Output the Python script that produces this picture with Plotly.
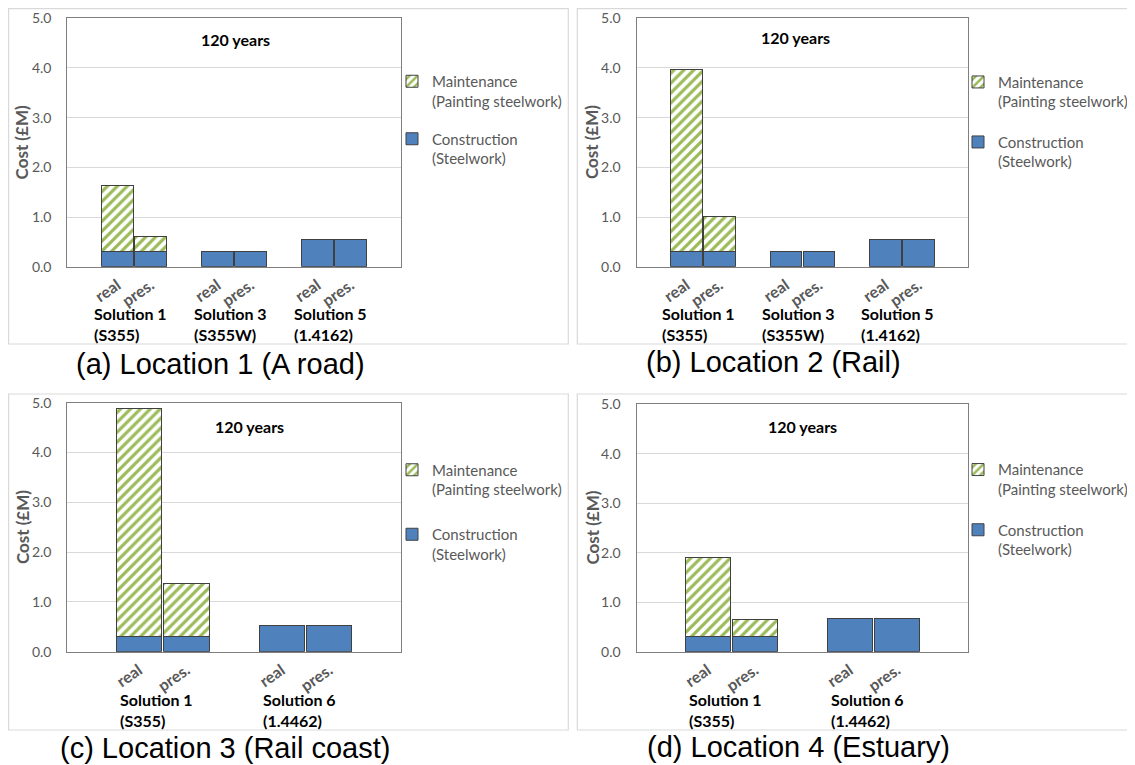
import plotly.graph_objects as go

# ---------------- data ----------------
bar_labels_3 = ["real", "pres.", "real", "pres.", "real", "pres."]
bar_slots_3 = [1, 2, 4, 5, 7, 8]
groups_3 = ["Solution 1<br>(S355)", "Solution 3<br>(S355W)", "Solution 5<br>(1.4162)"]
group_slots_3 = [1.5, 4.5, 7.5]

bar_labels_2 = ["real", "pres.", "real", "pres."]
bar_slots_2 = [1, 2, 4, 5]
groups_2 = ["Solution 1<br>(S355)", "Solution 6<br>(1.4462)"]
group_slots_2 = [1.5, 4.5]

constr_a = [0.30, 0.30, 0.30, 0.30, 0.54, 0.54]
maint_a = [1.34, 0.31, None, None, None, None]
constr_b = [0.30, 0.30, 0.30, 0.30, 0.54, 0.54]
maint_b = [3.67, 0.72, None, None, None, None]
constr_c = [0.30, 0.30, 0.53, 0.53]
maint_c = [4.58, 1.06, None, None]
constr_d = [0.30, 0.30, 0.68, 0.68]
maint_d = [1.60, 0.36, None, None]

captions = ["(a) Location 1 (A road)", "(b) Location 2 (Rail)",
            "(c) Location 3 (Rail coast)", "(d) Location 4 (Estuary)"]
maint_name = "Maintenance<br>(Painting steelwork)"
constr_name = "Construction<br>(Steelwork)"
period_label = "120 years"
y_title = "Cost (£M)"
y_ticks = [0, 1, 2, 3, 4, 5]

# ---------------- style ----------------
# the page body adds an 8px offset, so the figure is drawn 8px smaller and all
# positions below are given in window pixels and shifted by OFF
OFF = 8
W, H = 1135 - OFF, 765 - OFF
FONT = "Lato"
GRAY = "#595959"
BLUE = "#4F81BD"
GREEN = "#9BBB59"
EDGE = "#404040"


def px(x):
    return (x - OFF) / W


def py(y):
    return 1 - (y - OFF) / H


panels = [
    dict(k="", c=constr_a, m=maint_a, s=bar_slots_3, l=bar_labels_3, g=groups_3, gs=group_slots_3,
         xr=[-0.5, 9.5], xd=(67.4, 400.7), yd=(18.3, 266.7), leg=(392, 65), gap=15.5,
         per=(0.505, 4.58), cap=(220, 364), glab=323.8, yt=21.9),
    dict(k="2", c=constr_b, m=maint_b, s=bar_slots_3, l=bar_labels_3, g=groups_3, gs=group_slots_3,
         xr=[-0.5, 9.5], xd=(636.6, 968.3), yd=(18.3, 266.7), leg=(958, 65.7), gap=18,
         per=(0.48, 4.61), cap=(773.5, 362), glab=323.8, yt=591.6),
    dict(k="3", c=constr_c, m=maint_c, s=bar_slots_2, l=bar_labels_2, g=groups_2, gs=group_slots_2,
         xr=[-0.5, 6.5], xd=(67.4, 400.7), yd=(402.7, 651.7), leg=(392, 453.5), gap=22.5,
         per=(0.547, 4.52), cap=(225, 748), glab=709.5, yt=21.9),
    dict(k="4", c=constr_d, m=maint_d, s=bar_slots_2, l=bar_labels_2, g=groups_2, gs=group_slots_2,
         xr=[-0.5, 6.5], xd=(636.6, 968.0), yd=(404.3, 651.7), leg=(958, 453.3), gap=18.2,
         per=(0.50, 4.55), cap=(798, 747), glab=709.5, yt=591.6),
]

fig = go.Figure()
layout = dict(width=W, height=H, margin=dict(l=0, r=0, t=0, b=0, autoexpand=False), autosize=False,
              paper_bgcolor="white", plot_bgcolor="white", barmode="stack",
              font=dict(family=FONT, color=GRAY), showlegend=True)
annotations = []
shapes = []

for p in panels:
    k = p["k"]
    xa = "x" + k
    ya = "y" + k
    leg = "legend" + k
    fig.add_trace(go.Bar(
        x=p["s"], y=p["c"], name=constr_name, xaxis=xa, yaxis=ya, width=0.95,
        marker=dict(color=BLUE, line=dict(color=EDGE, width=1)),
        legend=leg, legendgroup="c" + k, legendrank=2, hoverinfo="y"))
    fig.add_trace(go.Bar(
        x=p["s"], y=p["m"], name=maint_name, xaxis=xa, yaxis=ya, width=0.95,
        marker=dict(color="white", line=dict(color=EDGE, width=1),
                    pattern=dict(shape="/", fgcolor=GREEN, bgcolor="white",
                                 size=7, solidity=0.45, fgopacity=1)),
        legend=leg, legendgroup="m" + k, legendrank=1, hoverinfo="y"))

    xkey = "xaxis" + k
    ykey = "yaxis" + k
    layout[xkey] = dict(domain=[px(p["xd"][0]), px(p["xd"][1])], anchor=ya,
                        range=p["xr"], tickmode="array", tickvals=p["s"], ticktext=p["l"],
                        tickangle=-35, showgrid=False, zeroline=False,
                        showline=True, mirror=True, linecolor="#7F7F7F", linewidth=1.3,
                        ticks="", ticklabelstandoff=2,
                        tickfont=dict(family=FONT, size=16, color=GRAY, weight="bold"),
                        fixedrange=True)
    layout[ykey] = dict(domain=[py(p["yd"][1]), py(p["yd"][0])], anchor=xa,
                        range=[0, 5], tickmode="array", tickvals=y_ticks,
                        ticktext=[f"{v:.1f}" for v in y_ticks],
                        showgrid=True, gridcolor="#D9D9D9", gridwidth=1.3, zeroline=False,
                        showline=True, mirror=True, linecolor="#7F7F7F", linewidth=1.3,
                        ticks="", ticklabelstandoff=12,
                        tickfont=dict(family=FONT, size=14, color=GRAY), fixedrange=True)
    layout[leg] = dict(x=px(p["leg"][0]), y=py(p["leg"][1]), xanchor="left", yanchor="top",
                       traceorder="grouped", valign="top", tracegroupgap=p["gap"],
                       font=dict(family=FONT, size=15, color=GRAY), bgcolor="rgba(0,0,0,0)",
                       itemclick=False, itemdoubleclick=False)

    annotations.append(dict(text=period_label, xref=xa + " domain", yref=ya,
                            x=p["per"][0], y=p["per"][1], showarrow=False,
                            xanchor="center", yanchor="middle",
                            font=dict(family=FONT, size=16, color="black", weight="bold")))
    annotations.append(dict(text=y_title, xref="paper", yref=ya + " domain",
                            x=px(p["yt"]), y=0.5, textangle=-90, showarrow=False,
                            xanchor="center", yanchor="middle",
                            font=dict(family=FONT, size=17, color=GRAY, weight="bold")))
    for gx, gt in zip(p["gs"], p["g"]):
        annotations.append(dict(text=gt, xref=xa, yref="paper", x=gx - 0.12, y=py(p["glab"]),
                                showarrow=False, align="left", xanchor="center", yanchor="middle",
                                font=dict(family=FONT, size=16, color="black", weight="bold")))

for p, cap in zip(panels, captions):
    annotations.append(dict(text=cap, xref="paper", yref="paper", x=px(p["cap"][0]),
                            y=py(p["cap"][1]), showarrow=False, xanchor="center", yanchor="middle",
                            font=dict(family="Liberation Sans, Arial", size=29, color="black")))

frames = [(8.6, 8.6, 568.3, 344), (577.3, 8.6, 1133, 344),
          (8.6, 394, 568.3, 730), (577.3, 394, 1133, 730)]
for x0, y0, x1, y1 in frames:
    shapes.append(dict(type="rect", xref="paper", yref="paper", x0=px(x0), x1=px(x1),
                       y0=py(y1), y1=py(y0), line=dict(color="#D9D9D9", width=1.2),
                       fillcolor="rgba(0,0,0,0)", layer="below"))

layout["annotations"] = annotations
layout["shapes"] = shapes
fig.update_layout(**layout)
fig.write_html("out.html")
